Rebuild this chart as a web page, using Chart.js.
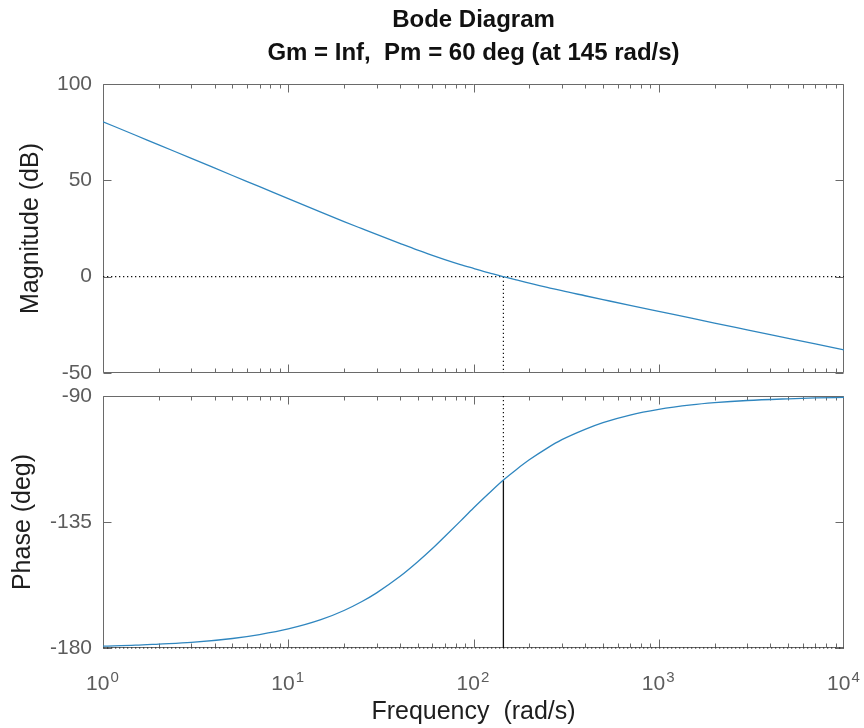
<!DOCTYPE html>
<html>
<head>
<meta charset="utf-8">
<title>Bode Diagram</title>
<script src="https://cdn.jsdelivr.net/npm/chart.js@4.4.1/dist/chart.umd.min.js"></script>
<style>
    html, body { margin: 0; padding: 0; background: #fff; }
    #wrap { position: relative; width: 864px; height: 728px; }
    #wrap canvas { position: absolute; left: 0; }
    #mag-canvas { top: 0; }
    #phase-canvas { top: 380px; }
</style>
</head>
<body>
<div id="wrap">
    <canvas id="mag-canvas" width="864" height="390"></canvas>
    <canvas id="phase-canvas" width="864" height="348"></canvas>
</div>
<script>
// values
const frequencies = [1, 1.5, 2, 3, 5, 7, 10, 15, 20, 25, 30, 40, 50, 60, 70, 85, 100, 120, 145, 170, 200, 250, 300, 400, 500, 700, 1000, 1500, 2000, 3000, 5000, 7000, 10000];
const magnitudeDb = [80.4, 73.4, 68.4, 61.4, 52.5, 46.7, 40.5, 33.5, 28.6, 24.9, 21.9, 17.3, 13.8, 11.1, 8.9, 6.3, 4.3, 2.1, 0.0, -1.7, -3.4, -5.5, -7.3, -9.9, -11.9, -14.9, -18.0, -21.5, -24.1, -27.6, -32.0, -34.9, -38.0];
const phaseDeg = [-179.3, -179.0, -178.6, -178.0, -176.6, -175.2, -173.2, -169.9, -166.6, -163.4, -160.3, -154.5, -149.2, -144.5, -140.2, -134.7, -130.0, -125.0, -120.0, -116.3, -112.8, -108.6, -105.6, -101.9, -99.5, -96.8, -94.8, -93.2, -92.4, -91.6, -91.0, -90.7, -90.5];

const xTickValues = [1, 10, 100, 1000, 10000];
const xTickBase = '10';
const xTickExponents = ['0', '1', '2', '3', '4'];
const magTicks = [-50, 0, 50, 100];
const phaseTicks = [-180, -135, -90];

const crossoverFreq = 145;
const crossoverPhase = -120;
const titleLines = ['Bode Diagram', 'Gm = Inf,  Pm = 60 deg (at 145 rad/s)'];

const fontFamily = '"Liberation Sans", Arial, Helvetica, sans-serif';
const tickColor = '#5c5c5c';
const labelColor = '#1e1e1e';
const curveColor = '#2f86bf';
const tickFontSize = 21;

Chart.defaults.font.family = fontFamily;
Chart.defaults.animation = false;

window.onload = function() {
    createMagnitudeChart();
    createPhaseChart();
}

function toPoints(xs, ys) {
    return xs.map((x, i) => ({ x: x, y: ys[i] }));
}

function curveDataset(values) {
    return {
        data: toPoints(frequencies, values),
        borderColor: curveColor,
        borderWidth: 1.3,
        pointRadius: 0,
        cubicInterpolationMode: 'monotone',
    };
}

function markerDataset(points, dashed) {
    return {
        data: points,
        borderColor: '#111',
        borderWidth: dashed ? 1.2 : 1.3,
        borderDash: dashed ? [1.3, 2.7] : [],
        pointRadius: 0,
        clip: false,
    };
}

// MATLAB style box with inward tick marks
const matlabBox = {
    id: 'matlabBox',
    beforeDatasetsDraw(chart) {
        const { ctx, chartArea: area, scales } = chart;
        const xScale = scales.x;
        const yScale = scales.y;
        const left = Math.round(area.left) + 0.5;
        const right = Math.round(area.right) - 0.5;
        const top = Math.round(area.top) + 0.5;
        const bottom = Math.round(area.bottom) - 0.5;

        ctx.save();
        ctx.strokeStyle = '#6a6a6a';
        ctx.lineWidth = 1;
        ctx.beginPath();
        ctx.rect(left, top, right - left, bottom - top);

        for (let decade = 1; decade < 10000; decade *= 10) {
            for (let m = 1; m < 10; m++) {
                const px = Math.round(xScale.getPixelForValue(decade * m)) + 0.5;
                const len = m === 1 ? 8 : 4;
                ctx.moveTo(px, top);
                ctx.lineTo(px, top + len);
                ctx.moveTo(px, bottom);
                ctx.lineTo(px, bottom - len);
            }
        }

        yScale.ticks.forEach(tick => {
            const py = Math.round(yScale.getPixelForValue(tick.value)) + 0.5;
            ctx.moveTo(left, py);
            ctx.lineTo(left + 8, py);
            ctx.moveTo(right, py);
            ctx.lineTo(right - 8, py);
        });

        ctx.stroke();
        ctx.restore();
    },
};

// the x labels are '10' from the axis, the exponent is added here
const decadeExponents = {
    id: 'decadeExponents',
    afterDraw(chart) {
        const { ctx, scales } = chart;
        const xScale = scales.x;
        const labelFont = `${tickFontSize}px ${fontFamily}`;
        const labelTop = xScale.top + 24;

        ctx.save();
        ctx.font = labelFont;
        const baseWidth = ctx.measureText(xTickBase).width;
        const fullWidth = ctx.measureText(xTickBase + '\u2002').width;

        ctx.font = `15px ${fontFamily}`;
        ctx.fillStyle = tickColor;
        ctx.textAlign = 'left';
        ctx.textBaseline = 'top';
        xTickValues.forEach((value, i) => {
            const px = xScale.getPixelForValue(value);
            const x = px - fullWidth / 2 + baseWidth + 1;
            ctx.fillText(xTickExponents[i], x, labelTop - 2);
        });
        ctx.restore();
    },
};

function yAxis(min, max, ticks, title, titleOffset) {
    return {
        type: 'linear',
        min: min,
        max: max,
        grid: { display: false, drawTicks: false },
        border: { display: false },
        afterBuildTicks: scale => {
            scale.ticks = ticks.map(v => ({ value: v }));
        },
        afterFit: scale => {
            scale.width = 103;
            scale.paddingTop = 0;
            scale.paddingBottom = 0;
        },
        ticks: {
            color: tickColor,
            padding: 11,
            font: { size: tickFontSize },
        },
        title: {
            display: true,
            text: title,
            color: labelColor,
            font: { size: 25 },
            padding: { top: titleOffset, bottom: 0 },
        },
    };
}

function createMagnitudeChart() {
    const canvas = document.querySelector('#mag-canvas');

    new Chart(canvas, {
        type: 'line',
        data: {
            datasets: [
                curveDataset(magnitudeDb),
                markerDataset([{ x: 1, y: 0 }, { x: 10000, y: 0 }], true),
                markerDataset([{ x: crossoverFreq, y: 0 }, { x: crossoverFreq, y: -50 }], true),
            ],
        },
        options: {
            responsive: false,
            layout: {
                padding: { top: 0, right: 20, bottom: 17, left: 0 },
            },
            plugins: {
                legend: { display: false },
                tooltip: { enabled: false },
                title: {
                    display: true,
                    fullSize: false,
                    text: titleLines,
                    color: '#111',
                    font: { size: 24, weight: 'bold', lineHeight: 33 / 24 },
                    padding: { top: 4, bottom: 14 },
                },
            },
            scales: {
                x: {
                    type: 'logarithmic',
                    min: 1,
                    max: 10000,
                    display: false,
                },
                y: yAxis(-50, 100, magTicks, 'Magnitude (dB)', 16),
            },
        },
        plugins: [matlabBox],
    });
}

function createPhaseChart() {
    const canvas = document.querySelector('#phase-canvas');

    new Chart(canvas, {
        type: 'line',
        data: {
            datasets: [
                curveDataset(phaseDeg),
                markerDataset([{ x: 1, y: -180 }, { x: 10000, y: -180 }], true),
                markerDataset([{ x: crossoverFreq, y: -90 }, { x: crossoverFreq, y: crossoverPhase }], true),
                markerDataset([{ x: crossoverFreq, y: crossoverPhase }, { x: crossoverFreq, y: -180 }], false),
            ],
        },
        options: {
            responsive: false,
            layout: {
                padding: { top: 16, right: 20, bottom: 0, left: 0 },
            },
            plugins: {
                legend: { display: false },
                tooltip: { enabled: false },
            },
            scales: {
                x: {
                    type: 'logarithmic',
                    min: 1,
                    max: 10000,
                    grid: { display: false, drawTicks: false },
                    border: { display: false },
                    afterBuildTicks: scale => {
                        scale.ticks = xTickValues.map(v => ({ value: v }));
                    },
                    afterFit: scale => {
                        scale.height = 80;
                        scale.paddingLeft = 0;
                        scale.paddingRight = 0;
                    },
                    ticks: {
                        color: tickColor,
                        padding: 24,
                        autoSkip: false,
                        maxRotation: 0,
                        font: { size: tickFontSize },
                        callback: () => xTickBase + '\u2002',
                    },
                    title: {
                        display: true,
                        text: 'Frequency  (rad/s)',
                        color: labelColor,
                        font: { size: 25 },
                        padding: { top: 0, bottom: 1 },
                    },
                },
                y: yAxis(-180, -90, phaseTicks, 'Phase (deg)', 8),
            },
        },
        plugins: [matlabBox, decadeExponents],
    });
}
</script>
</body>
</html>
